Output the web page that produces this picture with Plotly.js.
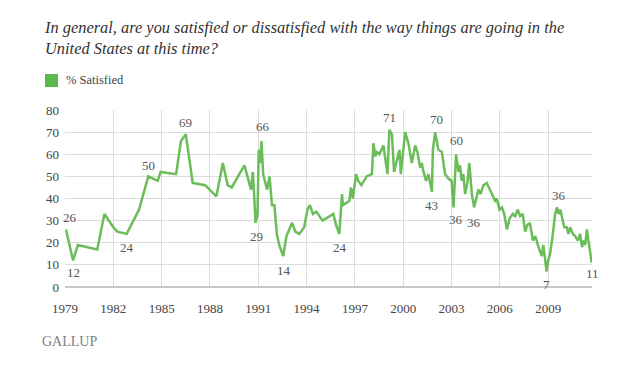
<!DOCTYPE html>
<html>
<head>
<meta charset="utf-8">
<script src="https://cdn.plot.ly/plotly-3.0.1.min.js"></script>
<style>html,body{margin:0;padding:0;background:#fff;}#chart{width:636px;height:374px;}</style>
</head>
<body>
<div id="chart"></div>
<script>
// ---- data (decimal year, % satisfied) ----
const years = [
 1979.06,1979.5,1979.8,1981.0,1981.45,1982.0,1982.25,1982.83,1983.6,1984.17,1984.75,1984.94,1985.9,
 1986.2,1986.5,1986.93,1987.7,1988.4,1988.8,1989.1,1989.35,1990.14,1990.55,1990.66,1990.75,1990.83,
 1990.95,1991.03,1991.1,1991.2,1991.3,1991.55,1991.7,1991.85,1992.0,1992.15,1992.3,1992.55,1992.75,
 1993.1,1993.3,1993.55,1993.85,1994.05,1994.2,1994.4,1994.6,1995.0,1995.66,1995.83,1996.03,1996.2,
 1996.25,1996.5,1996.66,1996.75,1996.87,1997.07,1997.2,1997.4,1997.73,1998.05,1998.15,1998.27,1998.36,
 1998.52,1998.77,1999.02,1999.14,1999.3,1999.43,1999.6,1999.77,1999.85,2000.12,2000.32,2000.53,2000.74,
 2000.88,2001.05,2001.15,2001.26,2001.42,2001.56,2001.67,2001.78,2001.84,2001.92,2001.98,2002.08,
 2002.18,2002.4,2002.6,2002.8,2003.0,2003.12,2003.28,2003.43,2003.53,2003.63,2003.73,2003.84,2003.98,
 2004.1,2004.26,2004.4,2004.57,2004.67,2004.8,2004.98,2005.19,2005.4,2005.56,2005.7,2005.8,2005.98,
 2006.13,2006.27,2006.44,2006.6,2006.8,2006.95,2007.1,2007.26,2007.42,2007.57,2007.7,2007.86,2008.05,
 2008.2,2008.4,2008.6,2008.7,2008.8,2008.9,2009.0,2009.12,2009.29,2009.43,2009.55,2009.65,2009.75,
 2009.88,2010.0,2010.15,2010.26,2010.37,2010.53,2010.67,2010.84,2010.98,2011.1,2011.2,2011.3,2011.4,
 2011.5,2011.7
];
const satisfied = [
 26,12,19,17,33,27,25,24,35,50,48,52,51,
 66,69,47,46,41,56,46,45,55,44,52,41,29,
 33,62,56,66,51,44,50,37,37,24,19,14,23,
 29,25,24,27,35,37,33,34,30,33,28,24,42,
 37,38,39,45,40,51,48,46,50,51,65,59,61,
 60,64,51,71,69,52,57,62,51,70,65,56,64,
 61,54,56,52,48,51,47,43,62,68,70,66,
 62,61,51,49,48,36,60,52,55,48,51,42,47,
 56,42,36,42,44,42,46,47,44,41,39,40,35,
 36,33,26,31,33,32,35,32,33,25,28,29,21,
 23,18,14,19,14,7,12,15,24,33,36,33,35,
 31,27,27,24,27,24,23,21,24,18,21,19,26,
 21,11
];
const xTicks = [1979,1982,1985,1988,1991,1994,1997,2000,2003,2006,2009];
const yTicks = [0,10,20,30,40,50,60,70,80];
// labelled points: year of the point in the series
const labelYears = [1979.06,1979.5,1982.83,1984.17,1986.5,1991.2,1990.83,1992.55,1996.03,1999.14,2001.98,2001.78,2003.28,2003.12,2004.4,2009.55,2008.9,2011.7];
// pixel offsets of each label from its point (style)
const labelOffsets = [[4,12],[0,-12],[0,-14],[0,11],[0,12],[1,14],[1,-14],[1,-14],[1,-14],[0,12],[1,13],[0,-14],[0,14],[3,-12],[0,-15],[2,12],[0,-13],[1,-11]];

const GREEN = '#6abd59';
const serif = 'Liberation Serif, DejaVu Serif, serif';

const L = 65, R = 592, T = 110, B = 287, W = 636, H = 374;
const px2x = p => (p - L) / (R - L);
const py2y = p => (B - p) / (B - T);

const annotations = labelYears.map((yr, i) => {
  const idx = years.indexOf(yr);
  return {
    x: years[idx], y: satisfied[idx], xref: 'x', yref: 'y',
    text: String(satisfied[idx]), showarrow: false,
    xshift: labelOffsets[i][0], yshift: labelOffsets[i][1],
    font: {family: serif, size: 13, color: '#555'}
  };
});
annotations.push({
  xref: 'paper', yref: 'paper', x: px2x(64), y: py2y(80), xanchor: 'left', yanchor: 'middle',
  text: '% Satisfied', showarrow: false, font: {family: serif, size: 12.5, color: '#444'}
});
annotations.push({
  xref: 'paper', yref: 'paper', x: px2x(40), y: py2y(341), xanchor: 'left', yanchor: 'middle',
  text: 'GALLUP', showarrow: false, font: {family: serif, size: 14, color: '#808080'}
});

const trace = {
  x: years, y: satisfied, type: 'scatter', mode: 'lines',
  line: {color: GREEN, width: 2.5}, hoverinfo: 'skip', showlegend: false
};

const layout = {
  width: W, height: H,
  margin: {l: L, r: W - R, t: T, b: H - B, pad: 0},
  paper_bgcolor: '#fff', plot_bgcolor: '#fff',
  showlegend: false,
  title: {
    text: 'In general, are you satisfied or dissatisfied with the way things are going in the<br>United States at this time?',
    xref: 'container', yref: 'container', x: 45 / W, xanchor: 'left', y: 1 - 33 / H, yanchor: 'top',
    font: {family: serif, size: 16.4, color: '#333', style: 'italic'}
  },
  xaxis: {
    range: [1979, 2011.72], tickvals: xTicks, ticktext: xTicks.map(String),
    showgrid: true, gridcolor: '#dcdcdc', gridwidth: 1,
    zeroline: false, showline: false, ticks: '', ticklabelstandoff: 12,
    tickfont: {family: serif, size: 13, color: '#444'}, fixedrange: true
  },
  yaxis: {
    range: [0, 80], tickvals: yTicks, ticktext: yTicks.map(String),
    showgrid: true, gridcolor: '#dcdcdc', gridwidth: 1,
    zeroline: true, zerolinecolor: '#c8c8c8', zerolinewidth: 1.5, showline: false, ticks: '', ticklabelstandoff: 5,
    tickfont: {family: serif, size: 13, color: '#444'}, fixedrange: true
  },
  shapes: [{
    type: 'rect', xref: 'paper', yref: 'paper',
    x0: px2x(45), x1: px2x(58), y0: py2y(87), y1: py2y(74),
    fillcolor: '#5cb84c', line: {width: 0}
  }],
  annotations: annotations
};

Plotly.newPlot('chart', [trace], layout, {displayModeBar: false, staticPlot: true});
</script>
</body>
</html>
